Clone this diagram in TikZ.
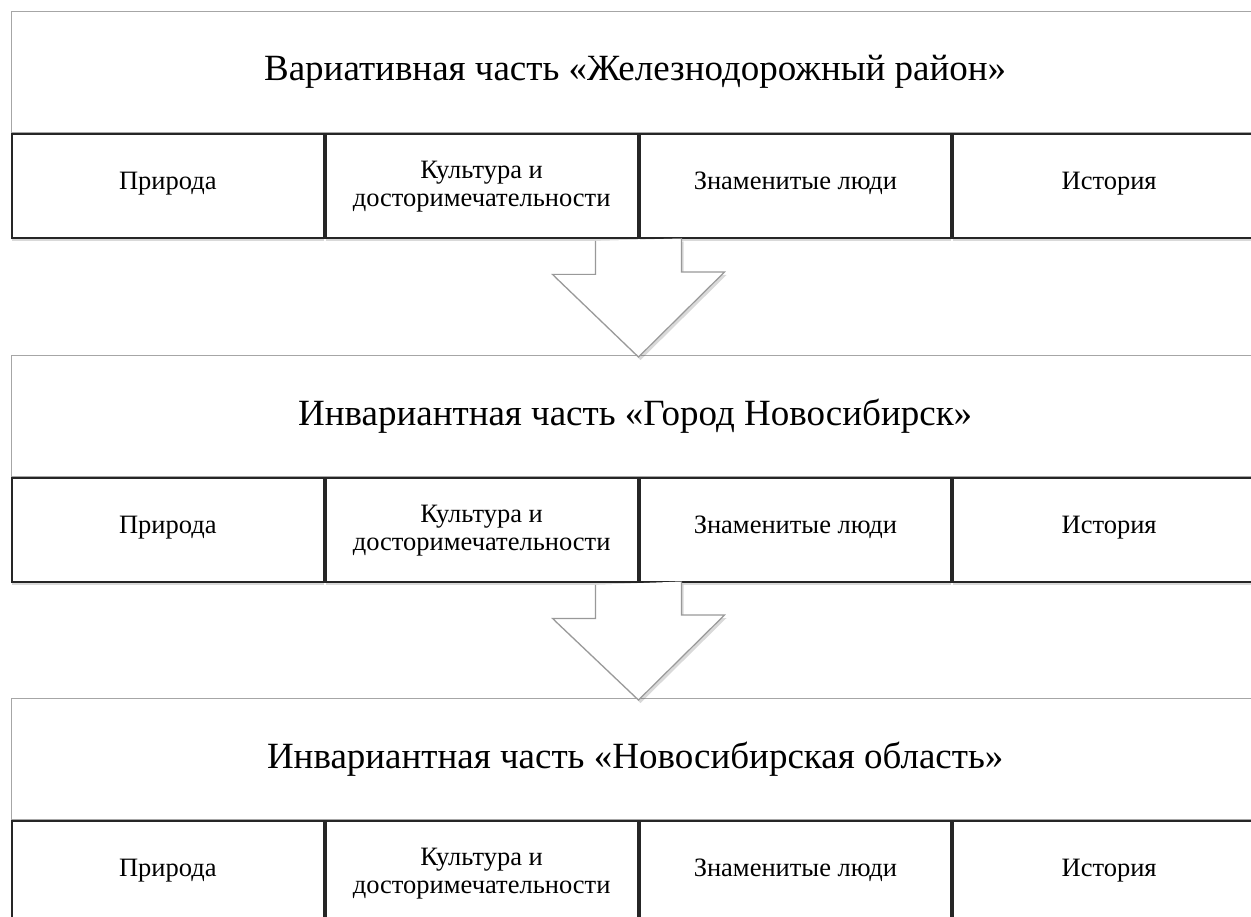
\documentclass[tikz,border=0pt]{standalone}
\usepackage{fontspec}
\setmainfont{Liberation Serif}
\usetikzlibrary{positioning,calc,shadows}

\tikzset{
  titlebox/.style={draw=gray!70, line width=1.4pt, fill=white, inner sep=0pt,
    minimum width=1247pt, minimum height=121pt, anchor=north west,
    font=\fontsize{37}{44}\selectfont},
  cellbox/.style={draw=black!85, line width=2pt, fill=white, inner sep=0pt,
    minimum width=311.75pt, minimum height=104pt, align=center,
    font=\fontsize{26.5}{28.5}\selectfont,
    drop shadow={shadow xshift=0pt, shadow yshift=-3pt, opacity=0.25, fill=black!60}},
  oneline/.style={cellbox, text height=0.66em, text depth=0pt},
  bigarrow/.style={draw=gray!80, line width=1.2pt, fill=white, line join=miter,
    drop shadow={shadow xshift=2pt, shadow yshift=-3pt, opacity=0.25, fill=black!60}}
}

% block arrow from the row above to the title below
\newcommand{\blockarrow}[2]{%
  \draw[bigarrow] ($(#1.south east)+(-43,1.5)$) -- ++(0,33.5) -- ++(-43,0)
    -- ($(#2.north -| #1.south east)+(0,2)$) -- ++(86,-85) -- ++(-43,0) -- ++(0,-33.5);
}

\begin{document}
\begin{tikzpicture}[x=1pt,y=-1pt]
  \useasboundingbox (0,0) rectangle (1251,917);
  \clip (0,0) rectangle (1251,917);

  % three blocks: title and a row of four cells
  \foreach \i/\y/\ttl in {1/11/{Вариативная часть «Железнодорожный район»},
                          2/355/{Инвариантная часть «Город Новосибирск»},
                          3/698/{Инвариантная часть «Новосибирская область»}} {
    \node[titlebox] (t\i) at (11,\y) {\ttl};
    \node[oneline, anchor=north west] (c\i1) at (t\i.south west) {Природа};
    \node[cellbox, right=0pt of c\i1] (c\i2) {Культура и\\досторимечательности};
    \node[oneline, right=0pt of c\i2] (c\i3) {Знаменитые люди};
    \node[oneline, right=0pt of c\i3] (c\i4) {История};
  }

  % arrows between the blocks
  \blockarrow{c12}{t2}
  \blockarrow{c22}{t3}
\end{tikzpicture}
\end{document}
